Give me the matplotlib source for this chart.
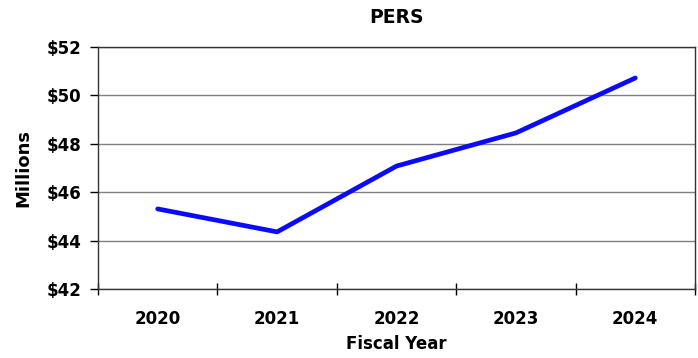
import matplotlib.pyplot as plt
from matplotlib.ticker import FixedLocator, NullFormatter

# PERS contributions by fiscal year, in millions
years = ["2020", "2021", "2022", "2023", "2024"]
pers = [45.31, 44.36, 47.08, 48.45, 50.72]
y_ticks = [42, 44, 46, 48, 50, 52]

plt.rcParams["font.family"] = ["DejaVu Sans"]

fig = plt.figure(figsize=(6.98, 3.58), dpi=100)
ax = fig.add_axes([0.1404, 0.1927, 0.8553, 0.676])

x = range(len(years))
ax.plot(x, pers, color="#0a0aff", lw=3.4, solid_capstyle="round", zorder=3)

ax.set_xlim(-0.5, len(years) - 0.5)
ax.set_ylim(42, 52)

# category labels in the middle, tick marks between categories
ax.xaxis.set_major_locator(FixedLocator([i - 0.5 for i in range(len(years) + 1)]))
ax.xaxis.set_major_formatter(NullFormatter())
ax.xaxis.set_minor_locator(FixedLocator(list(x)))
ax.set_xticklabels(years, minor=True, fontsize=12, fontweight="bold")
ax.tick_params(axis="x", which="minor", length=0, pad=15)
ax.tick_params(axis="x", which="major", direction="inout", length=9, width=1)

ax.set_yticks(y_ticks)
ax.set_yticklabels([f"${v}" for v in y_ticks], fontsize=12, fontweight="bold")
ax.tick_params(axis="y", direction="out", length=6, width=1, pad=6)

ax.grid(axis="y", color="#808080", lw=1)
for side in ax.spines.values():
    side.set_color("#333333")
    side.set_linewidth(1)

ax.set_title("PERS", fontsize=13.5, fontweight="bold", pad=17)
ax.set_xlabel("Fiscal Year", fontsize=12, fontweight="bold", labelpad=5)
ax.set_ylabel("Millions", fontsize=13, fontweight="bold", labelpad=10)

fig.savefig("out.png", dpi=100)
